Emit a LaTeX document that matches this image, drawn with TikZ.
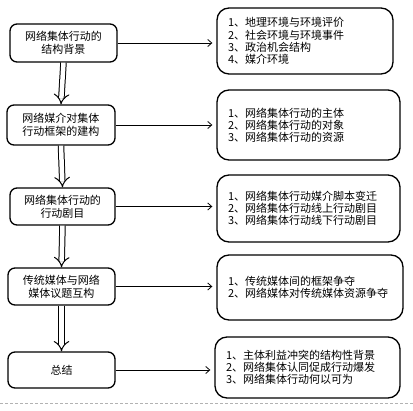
\documentclass[tikz,border=0pt]{standalone}
\usepackage{fontspec}
\newfontfamily\cjk{Noto Sans CJK SC}
\usetikzlibrary{arrows.meta}
\begin{document}
\begin{tikzpicture}[x=1pt,y=-1pt,
  leftbox/.style={draw, line width=1.3pt, rounded corners=7pt, align=center,
    font=\cjk\fontsize{11}{13}\selectfont, inner sep=0pt},
  rightbox/.style={draw, line width=1.3pt, rounded corners=12pt, align=left,
    font=\cjk\fontsize{11}{12.2}\selectfont, inner xsep=11pt, inner ysep=0pt},
  flow/.style={draw, line width=1pt, double distance=4.5pt, -{Implies[length=6pt,width=16pt]}},
  link/.style={draw, line width=0.8pt, -{Straight Barb[length=4pt,width=7pt]}, shorten >=4pt}]
\useasboundingbox (0,0) rectangle (413,411);
\fill[white] (0,0) rectangle (413,411);

% left boxes
\node[leftbox, minimum width=107pt, minimum height=38pt] (L1) at (63.5,43) {网络集体行动的\\结构背景};
\node[leftbox, minimum width=108pt, minimum height=40pt] (L2) at (61,125) {网络媒介对集体\\行动框架的建构};
\node[leftbox, minimum width=105pt, minimum height=37pt] (L3) at (62.5,206.5) {网络集体行动的\\行动剧目};
\node[leftbox, minimum width=107pt, minimum height=37pt] (L4) at (61.5,286.5) {传统媒体与网络\\媒体议题互构};
\node[leftbox, minimum width=107pt, minimum height=36pt] (L5) at (61.5,370) {总结};

% right boxes
\node[rightbox, minimum width=176pt, minimum height=66pt, text width=154pt] (R1) at (305,41)
  {1、地理环境与环境评价\\2、社会环境与环境事件\\3、政治机会结构\\4、媒介环境};
\node[rightbox, minimum width=183pt, minimum height=70pt, text width=161pt] (R2) at (308.5,125)
  {1、网络集体行动的主体\\2、网络集体行动的对象\\3、网络集体行动的资源};
\node[rightbox, minimum width=183pt, minimum height=67pt, text width=161pt] (R3) at (308.5,208.5)
  {1、网络集体行动媒介脚本变迁\\2、网络集体行动线上行动剧目\\3、网络集体行动线下行动剧目};
\node[rightbox, minimum width=186pt, minimum height=65pt, text width=164pt] (R4) at (310,287.5)
  {1、传统媒体间的框架争夺\\2、网络媒体对传统媒体资源争夺};
\node[rightbox, minimum width=185pt, minimum height=61pt, text width=163pt] (R5) at (307.5,367.5)
  {1、主体利益冲突的结构性背景\\2、网络集体认同促成行动爆发\\3、网络集体行动何以可为};

% vertical flow arrows
\draw[flow] (L1.south) -- (L2.north);
\draw[flow] (L2.south) -- (L3.north);
\draw[flow] (L3.south) -- (L4.north);
\draw[flow] (L4.south) -- (L5.north);

% horizontal links
\draw[link] (L1.east) -- (L1.east -| R1.west);
\draw[link] (L2.east) -- (L2.east -| R2.west);
\draw[link] (L3.east) -- (L3.east -| R3.west);
\draw[link] (L4.east) -- (L4.east -| R4.west);
\draw[link] (L5.east) -- (L5.east -| R5.west);

% bottom rule
\coordinate (b1) at (0,403);
\coordinate (b2) at (413,403);
\draw[gray!60, densely dashed, line width=0.6pt] (b1) -- (b2);
\end{tikzpicture}
\end{document}
